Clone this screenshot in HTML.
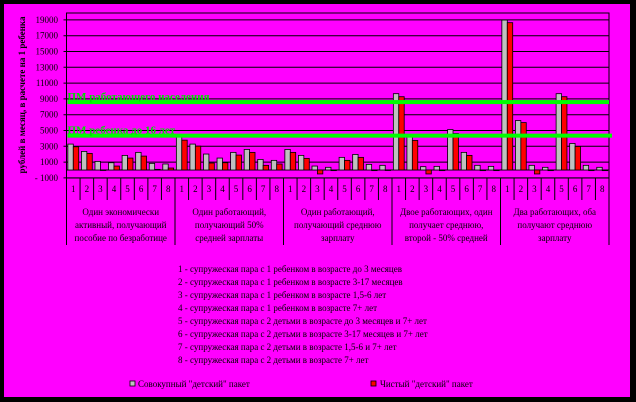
<!DOCTYPE html>
<html><head><meta charset="utf-8"><style>
body{margin:0;background:#000;}
svg{display:block;font-family:"Liberation Serif","DejaVu Serif",serif;}
</style></head><body>
<svg id="c" width="636" height="402" xmlns="http://www.w3.org/2000/svg">
<rect x="0" y="0" width="636" height="402" fill="#000"/>
<rect x="4" y="4" width="626" height="393" fill="#FF00FF"/>
<g id="g"></g>
</svg>
<script>
const groups=["Один экономически|активный, получающий|пособие по безработице","Один работающий,|получающий 50%|средней зарплаты","Один работающий,|получающий среднюю|зарплату","Двое работающих, один|получает среднюю,|второй - 50% средней","Два работающих, оба|получают среднюю|зарплату"];
const cats=["1","2","3","4","5","6","7","8"];
const grossVals=[3280,2350,1090,920,1850,2230,840,760, 4200,3280,2020,1510,2230,2600,1340,1220, 2600,1850,500,340,1600,1970,710,590, 9660,4400,420,460,5120,2230,590,460, 18980,6260,590,340,9660,3360,590,340];
const netVals=[2940,2100,0,500,1510,1760,80,250, 3780,3020,880,920,1890,2230,590,760, 2230,1470,-500,-80,1220,1600,-80,0, 9280,3740,-500,-80,4620,1850,-80,-80, 18650,6000,-500,-80,9280,2980,-80,-80];
const yTicks=[19000,17000,15000,13000,11000,9000,7000,5000,3000,1000,-1000];
const refVals=[8600,4350];
const refLabels=["ПМ работающего населения","ПМ ребенка до 16 лет"];
const legendLines=["1 - супружеская пара с 1 ребенком в возрасте до 3 месяцев","2 - супружеская пара с 1 ребенком в возрасте 3-17 месяцев","3 - супружеская пара с 1 ребенком в возрасте 1,5-6 лет","4 - супружеская пара с 1 ребенком в возрасте 7+ лет","5 - супружеская пара с 2 детьми в возрасте до 3 месяцев и 7+ лет","6 - супружеская пара с 2 детьми в возрасте 3-17 месяцев и 7+ лет","7 - супружеская пара с 2 детьми в возрасте 1,5-6 и 7+ лет","8 - супружеская пара с 2 детьми в возрасте 7+ лет"];
const X0=66.5,X1=609,TOP=13,BOT=178;
const n=grossVals.length, cw=(X1-X0)/n;
function y(v){return 170-v*0.0079;}
function x(i){return X0+i*cw;}
const g=document.getElementById('g');
const NS="http://www.w3.org/2000/svg";
function mk(t,a,p){const e=document.createElementNS(NS,t);for(const k in a)e.setAttribute(k,a[k]);(p||g).appendChild(e);return e;}
// plot border
let e=mk('rect',{x:X0,y:TOP,width:X1-X0,height:BOT-TOP,fill:'none',stroke:'#000','stroke-width':1});


yTicks.forEach(v=>{
 let l=mk('line',{x1:X0-3,x2:X1,y1:y(v),y2:y(v),stroke:'#000','stroke-width':1});
 
 
 let t=mk('text',{x:58,y:y(v)+3,'text-anchor':'end','font-size':9,fill:'#000'});
 t.textContent=(v<0?'- '+(-v):v);
 
 
});
e=mk('line',{x1:X0,x2:X1,y1:y(0),y2:y(0),stroke:'#000','stroke-width':1});


let yt=mk('text',{x:0,y:0,transform:'translate(25,95) rotate(-90)','text-anchor':'middle','font-size':9,'font-weight':'bold',fill:'#000'});
yt.textContent='рублей в месяц, в расчете на 1 ребенка';


// bars
for(let i=0;i<n;i++){
 const bw=cw*0.4;
 const gx=x(i)+cw*0.1;
 const gv=grossVals[i],nv=netVals[i];
 let b=mk('rect',{x:gx,y:Math.min(y(gv),y(0)),width:bw,height:Math.max(Math.abs(y(gv)-y(0)),0.5),fill:'#C0C0C0',stroke:'#000','stroke-width':0.8});
 
 
 let r=mk('rect',{x:gx+bw,y:Math.min(y(nv),y(0)),width:bw,height:Math.max(Math.abs(y(nv)-y(0)),0.5),fill:'#FF0000',stroke:'#000','stroke-width':0.8});
 
 
}
// reference lines
refVals.forEach((v,k)=>{
 let l=mk('rect',{x:X0+1,y:y(v)-2,width:X1-X0+(k?2:-1),height:4,fill:'#00FF00'});
 
 
 let t=mk('text',{x:X0+1,y:y(v)-2,'font-size':11,'font-weight':'bold',fill:'#00DD00'});
 t.textContent=refLabels[k];
 
 
});
// x categories
for(let i=0;i<n;i++){
 const gi=i%8;
 let l=mk('line',{x1:x(i),x2:x(i),y1:BOT,y2:gi==0?245:200,stroke:'#000','stroke-width':1});
 
 
 let t=mk('text',{x:x(i)+cw/2,y:192,'text-anchor':'middle','font-size':9,fill:'#000'});
 t.textContent=cats[gi];
 
 
}
e=mk('line',{x1:X1,x2:X1,y1:BOT,y2:245,stroke:'#000','stroke-width':1});


groups.forEach((s,k)=>{
 const cx=x(k*8)+cw*4;
 s.split('|').forEach((ln,j)=>{
  let t=mk('text',{x:cx,y:215+j*13,'text-anchor':'middle','font-size':9,fill:'#000'});
  t.textContent=ln;
  
  
 });
});
legendLines.forEach((s,k)=>{
 let t=mk('text',{x:178,y:272+k*13,'font-size':9,fill:'#000'});
 t.textContent=s;
 
 
});
e=mk('rect',{x:130,y:381,width:5,height:5,fill:'#C0C0C0',stroke:'#000','stroke-width':0.8});


e=mk('text',{x:138,y:387,'font-size':9,fill:'#000'});e.textContent='Совокупный "детский" пакет';


e=mk('rect',{x:371,y:381,width:5,height:5,fill:'#FF0000',stroke:'#000','stroke-width':0.8});


e=mk('text',{x:380,y:387,'font-size':9,fill:'#000'});e.textContent='Чистый "детский" пакет';


</script>
</body></html>
